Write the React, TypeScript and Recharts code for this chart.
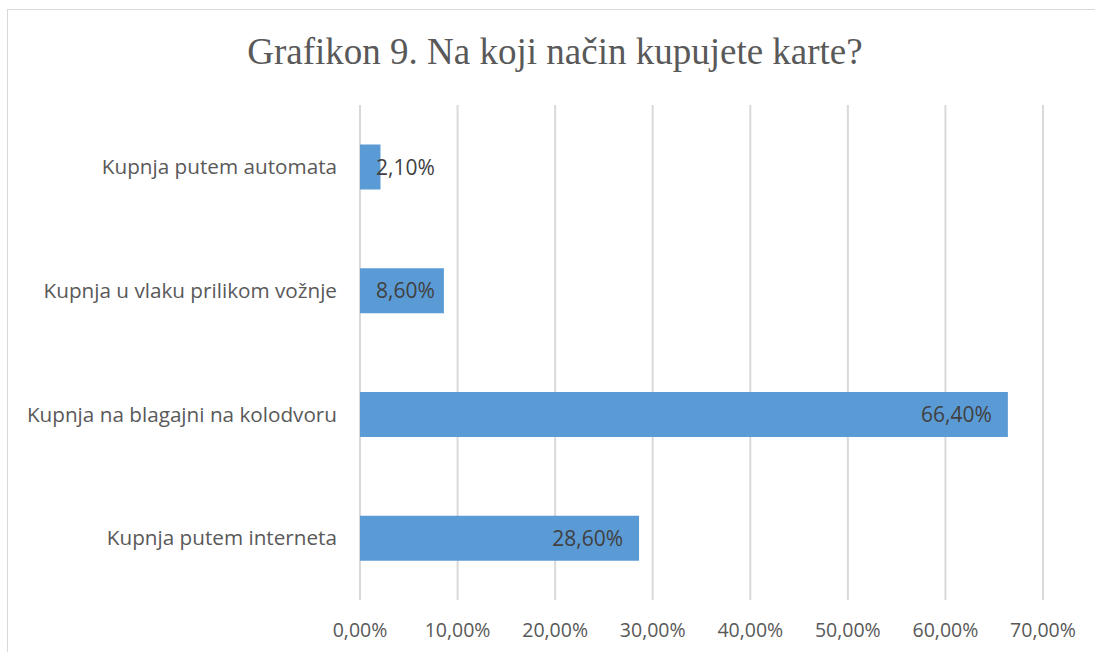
import React from "react";
import { BarChart, Bar, XAxis, YAxis, CartesianGrid, LabelList } from "recharts";

const categories = [
	"Kupnja putem automata",
	"Kupnja u vlaku prilikom vožnje",
	"Kupnja na blagajni na kolodvoru",
	"Kupnja putem interneta",
];
const shares = [2.1, 8.6, 66.4, 28.6];
const xTicks = [0, 10, 20, 30, 40, 50, 60, 70];

const data = categories.map((name, i) => ({ name, value: shares[i] }));

const FONT = "'Open Sans', 'Noto Sans', sans-serif";
const CAT_SIZE = 20.7;
const TICK_SIZE = 19.5;
const VALUE_SIZE = 21;

const fmt = (v: number) => v.toFixed(2).replace(".", ",") + "%";

function textWidth(s: string) {
	const c = document.createElement("canvas").getContext("2d");
	if (!c) return s.length * 11;
	c.font = `${VALUE_SIZE}px ${FONT}`;
	return c.measureText(s).width;
}

// Excel-style "inside end" label that gets pushed right when the bar is too short
function BarValue(props: any) {
	const { x, y, width, height, value } = props;
	const txt = fmt(value);
	const w = textWidth(txt);
	const right = Math.max(x + width - 16, x + 16 + w);
	return (
		<text x={right} y={y + height / 2} dy="0.36em" textAnchor="end" fill="#404040" fontSize={VALUE_SIZE} fontFamily={FONT}>
			{txt}
		</text>
	);
}

export default function App() {
	return (
		<div style={{ position: "absolute", left: 0, top: 0, width: 1095, height: 652, overflow: "hidden", background: "#fff" }}>
			<div style={{ position: "absolute", left: 7, top: 9, width: 1120, height: 700, border: "1px solid #d9d9d9" }} />
			<BarChart
				width={1095}
				height={652}
				data={data}
				layout="vertical"
				margin={{ top: 105, right: 52, bottom: 0, left: 0 }}
				barCategoryGap="32%"
				style={{ position: "absolute", left: 0, top: 0 }}
			>
				<text x={555} y={64} textAnchor="middle" fill="#595959" fontSize={37} fontFamily="'Liberation Serif', 'Times New Roman', serif">
					Grafikon 9. Na koji način kupujete karte?
				</text>
				<CartesianGrid horizontal={false} stroke="#d9d9d9" strokeWidth={2} />
				<XAxis
					type="number"
					domain={[0, 70]}
					ticks={xTicks}
					tickFormatter={fmt}
					axisLine={false}
					tickLine={false}
					tickSize={0}
					tickMargin={23}
					height={52}
					interval={0}
					tick={{ fill: "#595959", fontSize: TICK_SIZE, fontFamily: FONT }}
				/>
				<YAxis
					type="category"
					dataKey="name"
					width={360}
					axisLine={false}
					tickLine={false}
					tickSize={0}
					tickMargin={23}
					interval={0}
					tick={{ fill: "#595959", fontSize: CAT_SIZE, fontFamily: FONT }}
				/>
				<Bar dataKey="value" fill="#5b9bd5" isAnimationActive={false}>
					<LabelList dataKey="value" content={BarValue} />
				</Bar>
			</BarChart>
		</div>
	);
}
